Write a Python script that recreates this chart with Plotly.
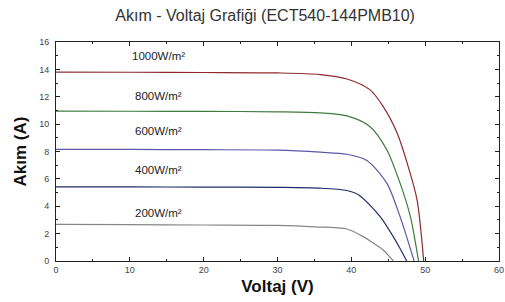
import plotly.graph_objects as go

# Data (Voltage V, Current A)
v_1000 = [0, 10, 20, 30, 35.8, 39.4, 42.5, 44.3, 46.2, 47.7, 48.9, 49.8]
i_1000 = [13.8, 13.79, 13.77, 13.74, 13.62, 13.3, 12.52, 11.3, 9.35, 6.9, 4.47, 0]

v_800 = [0, 10, 20, 30, 35.8, 39.4, 42.5, 44.8, 46.6, 48.0, 49.1]
i_800 = [10.95, 10.94, 10.93, 10.9, 10.82, 10.6, 9.83, 8.13, 5.69, 3.24, 0]

v_600 = [0, 10, 20, 30, 35.8, 39.4, 42.1, 44.8, 46.6, 48.5]
i_600 = [8.16, 8.15, 8.13, 8.1, 7.95, 7.8, 7.35, 5.69, 3.24, 0]

v_400 = [0, 10, 20, 30, 35.8, 39.4, 41.0, 43.9, 46.2, 47.5]
i_400 = [5.42, 5.41, 5.4, 5.38, 5.32, 5.15, 4.83, 3.24, 1.3, 0]

v_200 = [0, 10, 20, 30, 35, 39.4, 41.6, 43.0, 44.3, 45.7]
i_200 = [2.68, 2.66, 2.63, 2.6, 2.5, 2.34, 1.78, 1.3, 0.8, 0]

labels = ["1000W/m²", "800W/m²", "600W/m²", "400W/m²", "200W/m²"]
label_x = [10.0, 10.4, 10.4, 10.4, 10.4]
label_y = [14.96, 12.03, 9.47, 6.66, 3.51]
colors = ["#8E2A2E", "#3E7B3E", "#5A58A8", "#1F2A6A", "#878787"]

x_ticks = [0, 10, 20, 30, 40, 50, 60]
y_ticks = [0, 2, 4, 6, 8, 10, 12, 14, 16]

series = [(v_1000, i_1000), (v_800, i_800), (v_600, i_600), (v_400, i_400), (v_200, i_200)]

FONT = "Liberation Sans, Arial"

fig = go.Figure()
for (vx, iy), c, name in zip(series, colors, labels):
    fig.add_trace(go.Scatter(x=vx, y=iy, mode="lines", name=name,
                             line=dict(color=c, width=1.2, shape="spline", smoothing=0.8),
                             hoverinfo="skip"))

for t, lx, ly in zip(labels, label_x, label_y):
    fig.add_annotation(x=lx, y=ly, text=t, showarrow=False, xanchor="left", yanchor="middle",
                       font=dict(family=FONT, size=11.5, color="#222"))

axis_common = dict(showline=True, linecolor="#222", linewidth=1, mirror="ticks",
                   ticks="inside", ticklen=4, tickcolor="#222", showgrid=False, zeroline=False,
                   automargin=False,
                   tickfont=dict(family=FONT, size=9, color="#444"))

fig.update_xaxes(range=[0, 60], tickvals=x_ticks, ticktext=[str(v) for v in x_ticks],
                 minor=dict(dtick=5, ticks="inside", ticklen=2, tickcolor="#222", showgrid=False),
                 title=dict(text="<b>Voltaj (V)</b>", standoff=6,
                            font=dict(family=FONT, size=17, color="#111")),
                 **axis_common)
fig.update_yaxes(range=[0, 16], tickvals=y_ticks, ticktext=[str(v) for v in y_ticks],
                 minor=dict(dtick=1, ticks="inside", ticklen=2, tickcolor="#222", showgrid=False),
                 ticklabelstandoff=4,
                 title=dict(text="<b>Akım (A)</b>", standoff=8,
                            font=dict(family=FONT, size=17, color="#111")),
                 **axis_common)

fig.update_layout(
    width=505, height=302,
    margin=dict(l=56, r=6, t=42, b=41),
    paper_bgcolor="white", plot_bgcolor="white",
    showlegend=False,
    title=dict(text="Akım - Voltaj Grafiği (ECT540-144PMB10)", x=0.525, xanchor="center",
               y=0.95, yanchor="middle", automargin=False,
               font=dict(family=FONT, size=16, color="#333")),
)

fig.write_html("out.html", config={"displayModeBar": False},
               post_script="document.body.style.margin='0';")
